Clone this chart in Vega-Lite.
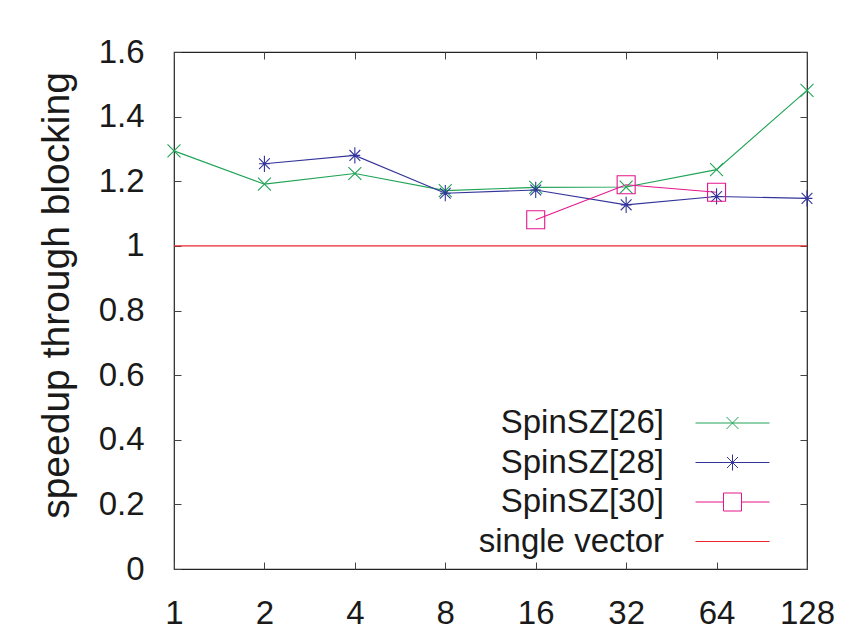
{
  "$schema": "https://vega.github.io/schema/vega-lite/v6.json",
  "width": 633,
  "height": 517,
  "autosize": "none",
  "padding": {"left": 174, "top": 52, "right": 44, "bottom": 71},
  "background": "white",
  "config": {
    "font": "Liberation Sans",
    "view": {"stroke": "#222", "strokeWidth": 1.2},
    "axis": {"domain": false, "grid": false, "labelFont": "Liberation Sans", "titleFont": "Liberation Sans", "labelColor": "#1a1a1a", "titleColor": "#1a1a1a", "tickColor": "#444", "tickWidth": 1}
  },
  "data": {
    "values": [
      {"n": 1, "speedup": 1.294, "series": "SpinSZ[26]"},
      {"n": 2, "speedup": 1.191, "series": "SpinSZ[26]"},
      {"n": 4, "speedup": 1.224, "series": "SpinSZ[26]"},
      {"n": 8, "speedup": 1.171, "series": "SpinSZ[26]"},
      {"n": 16, "speedup": 1.181, "series": "SpinSZ[26]"},
      {"n": 32, "speedup": 1.182, "series": "SpinSZ[26]"},
      {"n": 64, "speedup": 1.236, "series": "SpinSZ[26]"},
      {"n": 128, "speedup": 1.481, "series": "SpinSZ[26]"},
      {"n": 2, "speedup": 1.254, "series": "SpinSZ[28]"},
      {"n": 4, "speedup": 1.280, "series": "SpinSZ[28]"},
      {"n": 8, "speedup": 1.163, "series": "SpinSZ[28]"},
      {"n": 16, "speedup": 1.173, "series": "SpinSZ[28]"},
      {"n": 32, "speedup": 1.127, "series": "SpinSZ[28]"},
      {"n": 64, "speedup": 1.153, "series": "SpinSZ[28]"},
      {"n": 128, "speedup": 1.147, "series": "SpinSZ[28]"},
      {"n": 16, "speedup": 1.081, "series": "SpinSZ[30]"},
      {"n": 32, "speedup": 1.189, "series": "SpinSZ[30]"},
      {"n": 64, "speedup": 1.166, "series": "SpinSZ[30]"},
      {"n": 1, "speedup": 1.0, "series": "single vector"},
      {"n": 128, "speedup": 1.0, "series": "single vector"}
    ]
  },
  "resolve": {"axis": {"x": "independent", "y": "independent"}},
  "layer": [
    {
      "mark": {"type": "line", "strokeWidth": 1.1},
      "encoding": {
        "x": {"field": "n", "type": "quantitative",
          "scale": {"type": "log", "base": 2, "domain": [1, 128], "nice": false},
          "axis": {"orient": "bottom", "values": [1, 2, 4, 8, 16, 32, 64, 128], "title": null, "labelFontSize": 33, "tickSize": -7, "labelPadding": 35, "labelFlush": false, "labelOverlap": false}},
        "y": {"field": "speedup", "type": "quantitative",
          "scale": {"domain": [0, 1.6], "nice": false, "zero": true},
          "axis": {"orient": "left", "values": [0, 0.2, 0.4, 0.6, 0.8, 1, 1.2, 1.4, 1.6], "format": "~g", "title": "speedup through blocking", "titleFontSize": 39, "titleFontWeight": "normal", "titlePadding": 22, "titleY": 243, "labelFontSize": 33, "tickSize": -7, "labelPadding": 37, "labelFlush": false, "labelOverlap": false}},
        "color": {"field": "series", "type": "nominal",
          "scale": {"domain": ["SpinSZ[26]", "SpinSZ[28]", "SpinSZ[30]", "single vector"], "range": ["#21a357", "#34349a", "#e5158c", "#e8282e"]},
          "legend": {"orient": "none", "legendX": 542, "legendY": 354.5, "padding": 0, "title": null,
            "labelFontSize": 33, "labelFont": "Liberation Sans", "labelColor": "#1a1a1a", "labelAlign": "right", "labelOffset": -85, "labelLimit": 0,
            "symbolSize": 400, "symbolStrokeWidth": 1, "rowPadding": 5.5,
            "encode": {"symbols": {"update": {
              "shape": {"signal": "datum.value === 'SpinSZ[26]' ? 'M-3.7,0H3.7M-0.6,-0.6L0.6,0.6M-0.6,0.6L0.6,-0.6' : datum.value === 'SpinSZ[28]' ? 'M-3.7,0H3.7M-0.55,-0.55L0.55,0.55M-0.55,0.55L0.55,-0.55M0,-0.8V0.8' : datum.value === 'SpinSZ[30]' ? 'M-3.7,0H-0.9M0.9,0H3.7M-0.9,-0.9H0.9V0.9H-0.9Z' : 'M-3.7,0H3.7'"},
              "fill": {"value": "transparent"},
              "strokeWidth": {"value": 1}
            }}}}
        },
        "detail": {"field": "series", "type": "nominal"}
      }
    },
    {
      "transform": [{"filter": "datum.series !== 'single vector'"}],
      "mark": {"type": "point", "filled": false, "strokeWidth": 1.1, "size": 324, "opacity": 1},
      "encoding": {
        "x": {"field": "n", "type": "quantitative",
          "scale": {"type": "log", "base": 2, "domain": [1, 128], "nice": false},
          "axis": {"orient": "top", "values": [1, 2, 4, 8, 16, 32, 64, 128], "title": null, "labels": false, "tickSize": -7}},
        "y": {"field": "speedup", "type": "quantitative",
          "scale": {"domain": [0, 1.6], "nice": false, "zero": true},
          "axis": {"orient": "right", "values": [0, 0.2, 0.4, 0.6, 0.8, 1, 1.2, 1.4, 1.6], "title": null, "labels": false, "tickSize": -7}},
        "color": {"field": "series", "type": "nominal",
          "scale": {"domain": ["SpinSZ[26]", "SpinSZ[28]", "SpinSZ[30]", "single vector"], "range": ["#21a357", "#34349a", "#e5158c", "#e8282e"]}},
        "shape": {"field": "series", "type": "nominal", "legend": null,
          "scale": {"domain": ["SpinSZ[26]", "SpinSZ[28]", "SpinSZ[30]"], "range": ["M-0.72,-0.72L0.72,0.72M-0.72,0.72L0.72,-0.72", "M-0.6,-0.6L0.6,0.6M-0.6,0.6L0.6,-0.6M0,-0.9V0.9M-0.6,0H0.6", "M-1,-1H1V1H-1Z"]}}
      }
    }
  ]
}
